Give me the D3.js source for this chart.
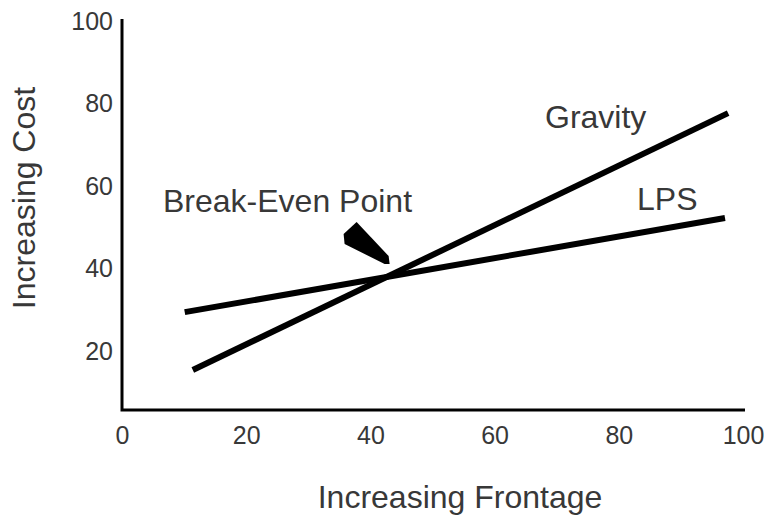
<!DOCTYPE html>
<html>
<head>
    <script src="https://d3js.org/d3.v7.min.js"></script>
    <style>
        body {
            margin: 0;
            background-color: white;
        }

        text {
            font-family: "Liberation Sans", Arial, sans-serif;
            fill: #383838;
        }

        .tick text {
            font-size: 25px;
        }

        .label {
            font-size: 32px;
        }

        .series {
            fill: none;
            stroke: black;
            stroke-width: 6;
        }
    </style>
</head>
<body>
    <div id="chart"></div>
    <script>
        // values
        const xTicks = [0, 20, 40, 60, 80, 100]
        const yTicks = [20, 40, 60, 80, 100]
        const gravityFrontage = [11.4, 97.6]
        const gravityCost = [15.5, 77.7]
        const lpsFrontage = [10.1, 97.1]
        const lpsCost = [29.5, 52.3]

        const w = 764
        const h = 516
        const axisY = 410

        const gravity = gravityFrontage.map((f, i) => ({ x: f, y: gravityCost[i] }))
        const lps = lpsFrontage.map((f, i) => ({ x: f, y: lpsCost[i] }))

        const svg = d3.select('#chart')
            .append('svg')
            .attr('width', w)
            .attr('height', h)

        const xScale = d3.scaleLinear()
            .domain([0, 100])
            .range([122, 743])
        const yScale = d3.scaleLinear()
            .domain([0, 100])
            .range([434, 21])

        // axis lines
        svg.append('path')
            .attr('d', `M${xScale(0)},19 V${axisY} H745`)
            .attr('fill', 'none')
            .attr('stroke', 'black')
            .attr('stroke-width', 3)

        svg.append('g')
            .attr('transform', `translate(0, ${axisY})`)
            .call(d3.axisBottom(xScale).tickValues(xTicks).tickSize(0).tickPadding(16))
            .call(g => g.select('.domain').remove())

        svg.append('g')
            .attr('transform', `translate(${xScale(0)}, 0)`)
            .call(d3.axisLeft(yScale).tickValues(yTicks).tickSize(0).tickPadding(9))
            .call(g => g.select('.domain').remove())

        svg.selectAll('.tick text')
            .attr('font-family', null)
            .attr('font-size', null)
            .attr('fill', null)

        const line = d3.line()
            .x(d => xScale(d.x))
            .y(d => yScale(d.y))

        svg.append('path').datum(gravity).attr('class', 'series').attr('d', line)
        svg.append('path').datum(lps).attr('class', 'series').attr('d', line)

        // break-even point = where the two lines cross
        const sg = (gravity[1].y - gravity[0].y) / (gravity[1].x - gravity[0].x)
        const sl = (lps[1].y - lps[0].y) / (lps[1].x - lps[0].x)
        const bx = (lps[0].y - sl * lps[0].x - gravity[0].y + sg * gravity[0].x) / (sg - sl)
        const by = gravity[0].y + sg * (bx - gravity[0].x)
        const px = xScale(bx)
        const py = yScale(by)

        svg.append('path')
            .attr('d', `M${px - 30},${py - 55} L${px - 43},${py - 43} L${px - 42},${py - 33}
                L${px - 2},${py - 13} L${px + 3},${py - 13} L${px + 2},${py - 21} Z`)
            .attr('fill', 'black')

        svg.append('text').attr('class', 'label')
            .attr('x', 163).attr('y', 212)
            .text('Break-Even Point')
        svg.append('text').attr('class', 'label')
            .attr('x', 545).attr('y', 128)
            .text('Gravity')
        svg.append('text').attr('class', 'label')
            .attr('x', 637).attr('y', 210)
            .text('LPS')

        svg.append('text').attr('class', 'label')
            .attr('x', 460).attr('y', 508)
            .attr('text-anchor', 'middle')
            .text('Increasing Frontage')
        svg.append('text').attr('class', 'label')
            .attr('transform', 'translate(35, 198) rotate(-90)')
            .attr('text-anchor', 'middle')
            .text('Increasing Cost')
    </script>
</body>
</html>
